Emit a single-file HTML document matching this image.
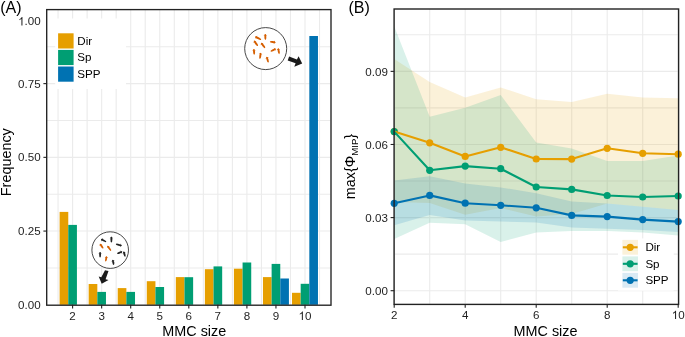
<!DOCTYPE html><html><head><meta charset="utf-8"><style>html,body{margin:0;padding:0;background:#fff;}svg{display:block;}text{font-family:"Liberation Sans", sans-serif;}</style></head><body>
<div style="will-change:transform;width:685px;height:337px">
<svg width="685" height="337" viewBox="0 0 685 337">
<rect width="685" height="337" fill="#fff"/>
<line x1="58.07" y1="9.9" x2="58.07" y2="304.8" stroke="#EBEBEB" stroke-width="1.1"/>
<line x1="72.60" y1="9.9" x2="72.60" y2="304.8" stroke="#EBEBEB" stroke-width="1.1"/>
<line x1="87.12" y1="9.9" x2="87.12" y2="304.8" stroke="#EBEBEB" stroke-width="1.1"/>
<line x1="101.65" y1="9.9" x2="101.65" y2="304.8" stroke="#EBEBEB" stroke-width="1.1"/>
<line x1="116.17" y1="9.9" x2="116.17" y2="304.8" stroke="#EBEBEB" stroke-width="1.1"/>
<line x1="130.70" y1="9.9" x2="130.70" y2="304.8" stroke="#EBEBEB" stroke-width="1.1"/>
<line x1="145.22" y1="9.9" x2="145.22" y2="304.8" stroke="#EBEBEB" stroke-width="1.1"/>
<line x1="159.75" y1="9.9" x2="159.75" y2="304.8" stroke="#EBEBEB" stroke-width="1.1"/>
<line x1="174.27" y1="9.9" x2="174.27" y2="304.8" stroke="#EBEBEB" stroke-width="1.1"/>
<line x1="188.80" y1="9.9" x2="188.80" y2="304.8" stroke="#EBEBEB" stroke-width="1.1"/>
<line x1="203.32" y1="9.9" x2="203.32" y2="304.8" stroke="#EBEBEB" stroke-width="1.1"/>
<line x1="217.85" y1="9.9" x2="217.85" y2="304.8" stroke="#EBEBEB" stroke-width="1.1"/>
<line x1="232.38" y1="9.9" x2="232.38" y2="304.8" stroke="#EBEBEB" stroke-width="1.1"/>
<line x1="246.90" y1="9.9" x2="246.90" y2="304.8" stroke="#EBEBEB" stroke-width="1.1"/>
<line x1="261.43" y1="9.9" x2="261.43" y2="304.8" stroke="#EBEBEB" stroke-width="1.1"/>
<line x1="275.95" y1="9.9" x2="275.95" y2="304.8" stroke="#EBEBEB" stroke-width="1.1"/>
<line x1="290.48" y1="9.9" x2="290.48" y2="304.8" stroke="#EBEBEB" stroke-width="1.1"/>
<line x1="305.00" y1="9.9" x2="305.00" y2="304.8" stroke="#EBEBEB" stroke-width="1.1"/>
<line x1="319.52" y1="9.9" x2="319.52" y2="304.8" stroke="#EBEBEB" stroke-width="1.1"/>
<line x1="47.0" y1="267.94" x2="330.4" y2="267.94" stroke="#EBEBEB" stroke-width="1.1"/>
<line x1="47.0" y1="231.07" x2="330.4" y2="231.07" stroke="#EBEBEB" stroke-width="1.1"/>
<line x1="47.0" y1="194.21" x2="330.4" y2="194.21" stroke="#EBEBEB" stroke-width="1.1"/>
<line x1="47.0" y1="157.35" x2="330.4" y2="157.35" stroke="#EBEBEB" stroke-width="1.1"/>
<line x1="47.0" y1="120.49" x2="330.4" y2="120.49" stroke="#EBEBEB" stroke-width="1.1"/>
<line x1="47.0" y1="83.62" x2="330.4" y2="83.62" stroke="#EBEBEB" stroke-width="1.1"/>
<line x1="47.0" y1="46.76" x2="330.4" y2="46.76" stroke="#EBEBEB" stroke-width="1.1"/>
<rect x="55.2" y="18.5" width="70.8" height="70.5" fill="#fff"/>
<rect x="59.62" y="211.9" width="8.65" height="92.90" fill="#E69F00"/>
<rect x="68.27" y="224.9" width="8.65" height="79.90" fill="#009E73"/>
<rect x="88.67" y="284" width="8.65" height="20.80" fill="#E69F00"/>
<rect x="97.32" y="291.9" width="8.65" height="12.90" fill="#009E73"/>
<rect x="117.72" y="288.1" width="8.65" height="16.70" fill="#E69F00"/>
<rect x="126.37" y="291.9" width="8.65" height="12.90" fill="#009E73"/>
<rect x="146.78" y="281.2" width="8.65" height="23.60" fill="#E69F00"/>
<rect x="155.43" y="287.0" width="8.65" height="17.80" fill="#009E73"/>
<rect x="175.83" y="277.1" width="8.65" height="27.70" fill="#E69F00"/>
<rect x="184.48" y="277.2" width="8.65" height="27.60" fill="#009E73"/>
<rect x="204.88" y="269.2" width="8.65" height="35.60" fill="#E69F00"/>
<rect x="213.53" y="266.4" width="8.65" height="38.40" fill="#009E73"/>
<rect x="233.93" y="268.7" width="8.65" height="36.10" fill="#E69F00"/>
<rect x="242.58" y="262.5" width="8.65" height="42.30" fill="#009E73"/>
<rect x="262.97" y="277.1" width="8.65" height="27.70" fill="#E69F00"/>
<rect x="271.62" y="263.9" width="8.65" height="40.90" fill="#009E73"/>
<rect x="280.27" y="278.5" width="8.65" height="26.30" fill="#0072B2"/>
<rect x="292.02" y="292.8" width="8.65" height="12.00" fill="#E69F00"/>
<rect x="300.68" y="283.8" width="8.65" height="21.00" fill="#009E73"/>
<rect x="309.32" y="36.0" width="8.65" height="268.80" fill="#0072B2"/>
<rect x="58.1" y="33.30" width="15.5" height="15.2" fill="#E69F00"/>
<text x="77.3" y="44.70" font-size="11.6" fill="#000">Dir</text>
<rect x="58.1" y="49.90" width="15.5" height="15.2" fill="#009E73"/>
<text x="77.3" y="61.30" font-size="11.6" fill="#000">Sp</text>
<rect x="58.1" y="66.50" width="15.5" height="15.2" fill="#0072B2"/>
<text x="77.3" y="77.90" font-size="11.6" fill="#000">SPP</text>
<circle cx="265.7" cy="48.6" r="21.0" fill="#fff" stroke="#333" stroke-width="0.9"/>
<g transform="translate(258.15,38.20) rotate(27.8)"><ellipse cx="0" cy="0" rx="3.36" ry="1.00" fill="#D55E00"/><path d="M-3.06,0 L-1.76,-1.80 L-1.76,1.80Z" fill="#D55E00"/></g>
<g transform="translate(265.35,36.90) rotate(88.9)"><ellipse cx="0" cy="0" rx="3.02" ry="1.00" fill="#D55E00"/><path d="M-2.72,0 L-1.42,-1.80 L-1.42,1.80Z" fill="#D55E00"/></g>
<g transform="translate(272.70,42.10) rotate(-173.4)"><ellipse cx="0" cy="0" rx="2.93" ry="1.00" fill="#D55E00"/><path d="M-2.63,0 L-1.33,-1.80 L-1.33,1.80Z" fill="#D55E00"/></g>
<g transform="translate(255.90,43.35) rotate(54.1)"><ellipse cx="0" cy="0" rx="3.25" ry="1.00" fill="#D55E00"/><path d="M-2.95,0 L-1.65,-1.80 L-1.65,1.80Z" fill="#D55E00"/></g>
<g transform="translate(263.05,45.45) rotate(53.3)"><ellipse cx="0" cy="0" rx="3.28" ry="1.00" fill="#D55E00"/><path d="M-2.98,0 L-1.68,-1.80 L-1.68,1.80Z" fill="#D55E00"/></g>
<g transform="translate(273.20,50.05) rotate(154.4)"><ellipse cx="0" cy="0" rx="2.98" ry="1.00" fill="#D55E00"/><path d="M-2.68,0 L-1.38,-1.80 L-1.38,1.80Z" fill="#D55E00"/></g>
<g transform="translate(278.70,51.15) rotate(79.3)"><ellipse cx="0" cy="0" rx="3.02" ry="1.00" fill="#D55E00"/><path d="M-2.72,0 L-1.42,-1.80 L-1.42,1.80Z" fill="#D55E00"/></g>
<g transform="translate(254.05,51.80) rotate(86.7)"><ellipse cx="0" cy="0" rx="2.92" ry="1.00" fill="#D55E00"/><path d="M-2.62,0 L-1.32,-1.80 L-1.32,1.80Z" fill="#D55E00"/></g>
<g transform="translate(260.30,55.85) rotate(98.3)"><ellipse cx="0" cy="0" rx="3.11" ry="1.00" fill="#D55E00"/><path d="M-2.81,0 L-1.51,-1.80 L-1.51,1.80Z" fill="#D55E00"/></g>
<g transform="translate(267.50,59.60) rotate(74.9)"><ellipse cx="0" cy="0" rx="3.02" ry="1.00" fill="#D55E00"/><path d="M-2.72,0 L-1.42,-1.80 L-1.42,1.80Z" fill="#D55E00"/></g>
<polygon points="289.1,56.6 296.9,59.5 298.6,56.3 302.2,63.5 294.3,66.7 295.6,63.2 287.7,60.5" fill="#1a1a1a"/>
<circle cx="110.2" cy="250.1" r="18.3" fill="#fff" stroke="#333" stroke-width="0.9"/>
<g transform="translate(103.65,240.50) rotate(27.1)"><ellipse cx="0" cy="0" rx="2.96" ry="0.95" fill="#222"/><path d="M-2.66,0 L-1.36,-1.71 L-1.36,1.71Z" fill="#222"/></g>
<g transform="translate(111.40,239.55) rotate(90.0)"><ellipse cx="0" cy="0" rx="2.97" ry="0.95" fill="#222"/><path d="M-2.67,0 L-1.37,-1.71 L-1.37,1.71Z" fill="#222"/></g>
<g transform="translate(118.80,244.80) rotate(-163.5)"><ellipse cx="0" cy="0" rx="3.15" ry="0.95" fill="#222"/><path d="M-2.85,0 L-1.55,-1.71 L-1.55,1.71Z" fill="#222"/></g>
<g transform="translate(101.60,246.10) rotate(54.5)"><ellipse cx="0" cy="0" rx="2.89" ry="0.95" fill="#D55E00"/><path d="M-2.59,0 L-1.29,-1.71 L-1.29,1.71Z" fill="#D55E00"/></g>
<g transform="translate(109.20,248.30) rotate(55.2)"><ellipse cx="0" cy="0" rx="3.14" ry="0.95" fill="#D55E00"/><path d="M-2.84,0 L-1.54,-1.71 L-1.54,1.71Z" fill="#D55E00"/></g>
<g transform="translate(119.65,252.60) rotate(159.0)"><ellipse cx="0" cy="0" rx="2.82" ry="0.95" fill="#222"/><path d="M-2.52,0 L-1.22,-1.71 L-1.22,1.71Z" fill="#222"/></g>
<g transform="translate(124.40,254.10) rotate(76.0)"><ellipse cx="0" cy="0" rx="2.77" ry="0.95" fill="#222"/><path d="M-2.47,0 L-1.17,-1.71 L-1.17,1.71Z" fill="#222"/></g>
<g transform="translate(100.10,254.70) rotate(90.0)"><ellipse cx="0" cy="0" rx="2.69" ry="0.95" fill="#222"/><path d="M-2.39,0 L-1.09,-1.71 L-1.09,1.71Z" fill="#222"/></g>
<g transform="translate(106.15,258.85) rotate(100.8)"><ellipse cx="0" cy="0" rx="2.68" ry="0.95" fill="#D55E00"/><path d="M-2.38,0 L-1.08,-1.71 L-1.08,1.71Z" fill="#D55E00"/></g>
<g transform="translate(113.25,262.40) rotate(79.4)"><ellipse cx="0" cy="0" rx="2.73" ry="0.95" fill="#222"/><path d="M-2.43,0 L-1.13,-1.71 L-1.13,1.71Z" fill="#222"/></g>
<polygon points="105,270.2 108.5,271 105.6,279.2 108.5,280 101.7,283.8 98.7,276.4 101.3,277.2" fill="#1a1a1a"/>
<rect x="46.7" y="9.6" width="284.3" height="295.59999999999997" fill="none" stroke="#222222" stroke-width="1.35"/>
<text x="40.7" y="308.90" font-size="11.6" fill="#1e1e1e" text-anchor="end">0.00</text>
<line x1="43.4" y1="231.07" x2="47.0" y2="231.07" stroke="#222222" stroke-width="1.1"/>
<text x="40.7" y="235.17" font-size="11.6" fill="#1e1e1e" text-anchor="end">0.25</text>
<line x1="43.4" y1="157.35" x2="47.0" y2="157.35" stroke="#222222" stroke-width="1.1"/>
<text x="40.7" y="161.45" font-size="11.6" fill="#1e1e1e" text-anchor="end">0.50</text>
<line x1="43.4" y1="83.62" x2="47.0" y2="83.62" stroke="#222222" stroke-width="1.1"/>
<text x="40.7" y="87.72" font-size="11.6" fill="#1e1e1e" text-anchor="end">0.75</text>
<path transform="translate(18.12,25.40) scale(0.005664,-0.005664)" d="M763 0H583V1147Q518 1085 412 1023T223 930V1104Q374 1175 487 1276T647 1472H763Z" fill="#1e1e1e"/>
<text x="24.57" y="25.40" font-size="11.6" fill="#1e1e1e">.00</text>
<line x1="72.60" y1="304.8" x2="72.60" y2="308.40000000000003" stroke="#222222" stroke-width="1.1"/>
<text x="72.60" y="319.9" font-size="11.6" fill="#1e1e1e" text-anchor="middle">2</text>
<line x1="101.65" y1="304.8" x2="101.65" y2="308.40000000000003" stroke="#222222" stroke-width="1.1"/>
<text x="101.65" y="319.9" font-size="11.6" fill="#1e1e1e" text-anchor="middle">3</text>
<line x1="130.70" y1="304.8" x2="130.70" y2="308.40000000000003" stroke="#222222" stroke-width="1.1"/>
<text x="130.70" y="319.9" font-size="11.6" fill="#1e1e1e" text-anchor="middle">4</text>
<line x1="159.75" y1="304.8" x2="159.75" y2="308.40000000000003" stroke="#222222" stroke-width="1.1"/>
<text x="159.75" y="319.9" font-size="11.6" fill="#1e1e1e" text-anchor="middle">5</text>
<line x1="188.80" y1="304.8" x2="188.80" y2="308.40000000000003" stroke="#222222" stroke-width="1.1"/>
<text x="188.80" y="319.9" font-size="11.6" fill="#1e1e1e" text-anchor="middle">6</text>
<line x1="217.85" y1="304.8" x2="217.85" y2="308.40000000000003" stroke="#222222" stroke-width="1.1"/>
<text x="217.85" y="319.9" font-size="11.6" fill="#1e1e1e" text-anchor="middle">7</text>
<line x1="246.90" y1="304.8" x2="246.90" y2="308.40000000000003" stroke="#222222" stroke-width="1.1"/>
<text x="246.90" y="319.9" font-size="11.6" fill="#1e1e1e" text-anchor="middle">8</text>
<line x1="275.95" y1="304.8" x2="275.95" y2="308.40000000000003" stroke="#222222" stroke-width="1.1"/>
<text x="275.95" y="319.9" font-size="11.6" fill="#1e1e1e" text-anchor="middle">9</text>
<line x1="305.00" y1="304.8" x2="305.00" y2="308.40000000000003" stroke="#222222" stroke-width="1.1"/>
<path transform="translate(298.55,319.90) scale(0.005664,-0.005664)" d="M763 0H583V1147Q518 1085 412 1023T223 930V1104Q374 1175 487 1276T647 1472H763Z" fill="#1e1e1e"/>
<text x="305.00" y="319.9" font-size="11.6" fill="#1e1e1e">0</text>
<text x="194.3" y="336.1" font-size="14.4" fill="#000" text-anchor="middle">MMC size</text>
<text transform="translate(11.4,162.2) rotate(-90)" font-size="14.4" fill="#000" text-anchor="middle">Frequency</text>
<text x="0.2" y="12.6" font-size="16" fill="#000">(A)</text>
<line x1="394.20" y1="9.0" x2="394.20" y2="304.5" stroke="#EBEBEB" stroke-width="1.1"/>
<line x1="429.70" y1="9.0" x2="429.70" y2="304.5" stroke="#EBEBEB" stroke-width="1.1"/>
<line x1="465.20" y1="9.0" x2="465.20" y2="304.5" stroke="#EBEBEB" stroke-width="1.1"/>
<line x1="500.70" y1="9.0" x2="500.70" y2="304.5" stroke="#EBEBEB" stroke-width="1.1"/>
<line x1="536.20" y1="9.0" x2="536.20" y2="304.5" stroke="#EBEBEB" stroke-width="1.1"/>
<line x1="571.70" y1="9.0" x2="571.70" y2="304.5" stroke="#EBEBEB" stroke-width="1.1"/>
<line x1="607.20" y1="9.0" x2="607.20" y2="304.5" stroke="#EBEBEB" stroke-width="1.1"/>
<line x1="642.70" y1="9.0" x2="642.70" y2="304.5" stroke="#EBEBEB" stroke-width="1.1"/>
<line x1="678.20" y1="9.0" x2="678.20" y2="304.5" stroke="#EBEBEB" stroke-width="1.1"/>
<line x1="394.2" y1="290.70" x2="678.2" y2="290.70" stroke="#EBEBEB" stroke-width="1.1"/>
<line x1="394.2" y1="254.14" x2="678.2" y2="254.14" stroke="#EBEBEB" stroke-width="1.1"/>
<line x1="394.2" y1="217.59" x2="678.2" y2="217.59" stroke="#EBEBEB" stroke-width="1.1"/>
<line x1="394.2" y1="181.03" x2="678.2" y2="181.03" stroke="#EBEBEB" stroke-width="1.1"/>
<line x1="394.2" y1="144.48" x2="678.2" y2="144.48" stroke="#EBEBEB" stroke-width="1.1"/>
<line x1="394.2" y1="107.92" x2="678.2" y2="107.92" stroke="#EBEBEB" stroke-width="1.1"/>
<line x1="394.2" y1="71.37" x2="678.2" y2="71.37" stroke="#EBEBEB" stroke-width="1.1"/>
<line x1="394.2" y1="34.81" x2="678.2" y2="34.81" stroke="#EBEBEB" stroke-width="1.1"/>
<polygon points="394.20,59.10 429.70,82.00 465.20,97.60 500.70,87.40 536.20,99.20 571.70,102.00 607.20,93.70 642.70,97.50 678.20,98.30 678.20,210.00 642.70,206.80 607.20,203.50 571.70,214.00 536.20,216.50 500.70,208.00 465.20,214.70 429.70,203.00 394.20,202.00" fill="#E69F00" fill-opacity="0.15"/>
<polygon points="394.20,26.30 429.70,116.80 465.20,107.80 500.70,95.10 536.20,142.50 571.70,148.60 607.20,161.00 642.70,161.00 678.20,155.60 678.20,235.50 642.70,232.50 607.20,231.00 571.70,231.00 536.20,232.50 500.70,242.00 465.20,224.30 429.70,222.70 394.20,239.00" fill="#009E73" fill-opacity="0.15"/>
<polygon points="394.20,180.50 429.70,176.20 465.20,183.40 500.70,187.40 536.20,193.20 571.70,201.50 607.20,203.50 642.70,206.80 678.20,210.00 678.20,232.10 642.70,229.90 607.20,228.80 571.70,227.60 536.20,222.60 500.70,221.50 465.20,220.60 429.70,215.00 394.20,225.30" fill="#0072B2" fill-opacity="0.15"/>
<circle cx="394.20" cy="131.60" r="3.6" fill="#E69F00"/>
<circle cx="429.70" cy="142.80" r="3.6" fill="#E69F00"/>
<circle cx="465.20" cy="156.40" r="3.6" fill="#E69F00"/>
<circle cx="500.70" cy="147.30" r="3.6" fill="#E69F00"/>
<circle cx="536.20" cy="159.00" r="3.6" fill="#E69F00"/>
<circle cx="571.70" cy="159.10" r="3.6" fill="#E69F00"/>
<circle cx="607.20" cy="148.30" r="3.6" fill="#E69F00"/>
<circle cx="642.70" cy="153.30" r="3.6" fill="#E69F00"/>
<circle cx="678.20" cy="154.20" r="3.6" fill="#E69F00"/>
<circle cx="394.20" cy="131.60" r="3.6" fill="#009E73"/>
<circle cx="429.70" cy="170.30" r="3.6" fill="#009E73"/>
<circle cx="465.20" cy="166.10" r="3.6" fill="#009E73"/>
<circle cx="500.70" cy="168.70" r="3.6" fill="#009E73"/>
<circle cx="536.20" cy="187.00" r="3.6" fill="#009E73"/>
<circle cx="571.70" cy="189.40" r="3.6" fill="#009E73"/>
<circle cx="607.20" cy="195.50" r="3.6" fill="#009E73"/>
<circle cx="642.70" cy="197.00" r="3.6" fill="#009E73"/>
<circle cx="678.20" cy="196.00" r="3.6" fill="#009E73"/>
<circle cx="394.20" cy="203.30" r="3.6" fill="#0072B2"/>
<circle cx="429.70" cy="195.40" r="3.6" fill="#0072B2"/>
<circle cx="465.20" cy="203.20" r="3.6" fill="#0072B2"/>
<circle cx="500.70" cy="205.30" r="3.6" fill="#0072B2"/>
<circle cx="536.20" cy="207.80" r="3.6" fill="#0072B2"/>
<circle cx="571.70" cy="215.40" r="3.6" fill="#0072B2"/>
<circle cx="607.20" cy="216.60" r="3.6" fill="#0072B2"/>
<circle cx="642.70" cy="219.60" r="3.6" fill="#0072B2"/>
<circle cx="678.20" cy="221.60" r="3.6" fill="#0072B2"/>
<polyline points="394.20,131.60 429.70,142.80 465.20,156.40 500.70,147.30 536.20,159.00 571.70,159.10 607.20,148.30 642.70,153.30 678.20,154.20" fill="none" stroke="#E69F00" stroke-width="2.1" stroke-linejoin="round"/>
<polyline points="394.20,131.60 429.70,170.30 465.20,166.10 500.70,168.70 536.20,187.00 571.70,189.40 607.20,195.50 642.70,197.00 678.20,196.00" fill="none" stroke="#009E73" stroke-width="2.1" stroke-linejoin="round"/>
<polyline points="394.20,203.30 429.70,195.40 465.20,203.20 500.70,205.30 536.20,207.80 571.70,215.40 607.20,216.60 642.70,219.60 678.20,221.60" fill="none" stroke="#0072B2" stroke-width="2.1" stroke-linejoin="round"/>
<rect x="618.0" y="238.4" width="55.7" height="52.2" fill="#fff"/>
<rect x="622.4" y="239.90" width="15.6" height="14.8" fill="#E69F00" fill-opacity="0.15"/>
<line x1="622.8" y1="247.30" x2="637.6" y2="247.30" stroke="#E69F00" stroke-width="2.1"/>
<circle cx="630.2" cy="247.30" r="3.6" fill="#E69F00"/>
<text x="645.4" y="251.30" font-size="11.6" fill="#000">Dir</text>
<rect x="622.4" y="256.40" width="15.6" height="14.8" fill="#009E73" fill-opacity="0.15"/>
<line x1="622.8" y1="263.80" x2="637.6" y2="263.80" stroke="#009E73" stroke-width="2.1"/>
<circle cx="630.2" cy="263.80" r="3.6" fill="#009E73"/>
<text x="645.4" y="267.80" font-size="11.6" fill="#000">Sp</text>
<rect x="622.4" y="272.90" width="15.6" height="14.8" fill="#0072B2" fill-opacity="0.15"/>
<line x1="622.8" y1="280.30" x2="637.6" y2="280.30" stroke="#0072B2" stroke-width="2.1"/>
<circle cx="630.2" cy="280.30" r="3.6" fill="#0072B2"/>
<text x="645.4" y="284.30" font-size="11.6" fill="#000">SPP</text>
<rect x="394.1" y="9.0" width="284.5" height="295.4" fill="none" stroke="#222222" stroke-width="1.4"/>
<line x1="390.59999999999997" y1="290.70" x2="394.2" y2="290.70" stroke="#222222" stroke-width="1.1"/>
<text x="387.9" y="295.10" font-size="11.6" fill="#1e1e1e" text-anchor="end">0.00</text>
<line x1="390.59999999999997" y1="217.59" x2="394.2" y2="217.59" stroke="#222222" stroke-width="1.1"/>
<text x="387.9" y="221.99" font-size="11.6" fill="#1e1e1e" text-anchor="end">0.03</text>
<line x1="390.59999999999997" y1="144.48" x2="394.2" y2="144.48" stroke="#222222" stroke-width="1.1"/>
<text x="387.9" y="148.88" font-size="11.6" fill="#1e1e1e" text-anchor="end">0.06</text>
<line x1="390.59999999999997" y1="71.37" x2="394.2" y2="71.37" stroke="#222222" stroke-width="1.1"/>
<text x="387.9" y="75.77" font-size="11.6" fill="#1e1e1e" text-anchor="end">0.09</text>
<line x1="394.20" y1="304.5" x2="394.20" y2="307.7" stroke="#222222" stroke-width="1.1"/>
<text x="394.20" y="319.0" font-size="11.6" fill="#1e1e1e" text-anchor="middle">2</text>
<line x1="465.20" y1="304.5" x2="465.20" y2="307.7" stroke="#222222" stroke-width="1.1"/>
<text x="465.20" y="319.0" font-size="11.6" fill="#1e1e1e" text-anchor="middle">4</text>
<line x1="536.20" y1="304.5" x2="536.20" y2="307.7" stroke="#222222" stroke-width="1.1"/>
<text x="536.20" y="319.0" font-size="11.6" fill="#1e1e1e" text-anchor="middle">6</text>
<line x1="607.20" y1="304.5" x2="607.20" y2="307.7" stroke="#222222" stroke-width="1.1"/>
<text x="607.20" y="319.0" font-size="11.6" fill="#1e1e1e" text-anchor="middle">8</text>
<line x1="678.20" y1="304.5" x2="678.20" y2="307.7" stroke="#222222" stroke-width="1.1"/>
<path transform="translate(671.75,319.00) scale(0.005664,-0.005664)" d="M763 0H583V1147Q518 1085 412 1023T223 930V1104Q374 1175 487 1276T647 1472H763Z" fill="#1e1e1e"/>
<text x="678.20" y="319.0" font-size="11.6" fill="#1e1e1e">0</text>
<text x="545.5" y="336.0" font-size="14.4" fill="#000" text-anchor="middle">MMC size</text>
<text transform="translate(354.7,199.2) rotate(-90)" font-size="14.4" fill="#000">max{Φ<tspan font-size="9.6" dy="3.6">MIP</tspan><tspan dy="-3.6">}</tspan></text>
<text x="348.4" y="12.6" font-size="16" fill="#000">(B)</text>
</svg></div></body></html>
